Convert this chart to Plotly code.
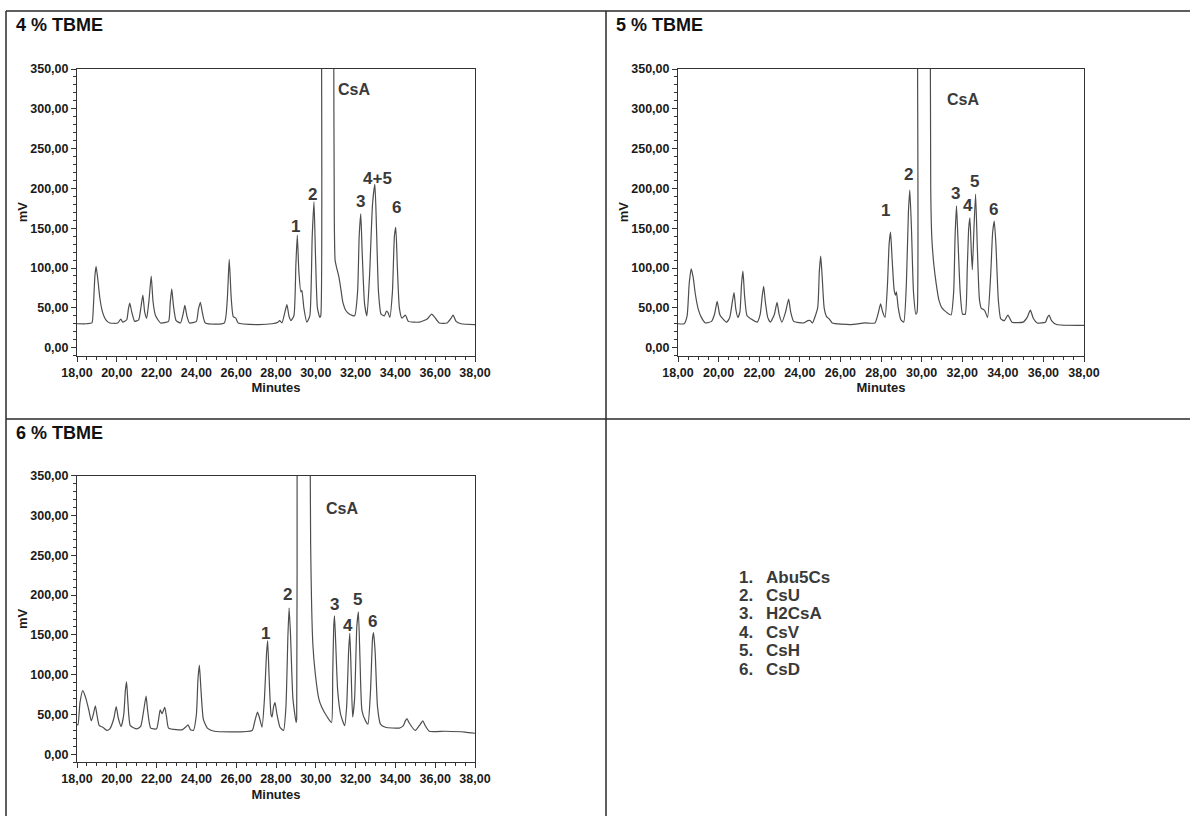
import plotly.graph_objects as go

W, H = 1190, 816
FONT = "Liberation Sans, Arial, sans-serif"

# ---------------- data ----------------
t_4 = [18.0, 18.5, 18.75, 18.82, 18.9, 18.96, 19.05, 19.15, 19.28, 19.45, 19.65, 20.05, 20.2, 20.3, 20.5,
       20.58, 20.65, 20.75, 20.9, 21.1, 21.22, 21.31, 21.4, 21.5, 21.62, 21.73, 21.82, 21.95, 22.2, 22.6,
       22.68, 22.76, 22.85, 22.98, 23.2, 23.33, 23.42, 23.52, 23.65, 24.0, 24.1, 24.2, 24.3, 24.45, 25.4,
       25.55, 25.65, 25.75, 25.85, 25.98, 26.1, 27.0, 27.8, 28.1, 28.18, 28.3, 28.45, 28.55, 28.65, 28.75,
       28.9, 29.0, 29.07, 29.15, 29.25, 29.3, 29.4, 29.55, 29.7, 29.82, 29.91, 29.98, 30.08, 30.2, 30.25,
       30.27, 30.6, 30.88, 30.9, 30.93, 30.97, 31.05, 31.15, 31.25, 31.35, 31.5, 31.7, 31.95, 32.1, 32.18,
       32.26, 32.33, 32.45, 32.57, 32.7, 32.85, 32.97, 33.05, 33.15, 33.28, 33.45, 33.55, 33.63, 33.72,
       33.85, 33.95, 34.02, 34.1, 34.2, 34.33, 34.5, 34.65, 35.2, 35.6, 35.82, 35.95, 36.2, 36.6, 36.8,
       36.9, 37.05, 37.3, 38.0]
mv_4 = [30, 30, 31, 50, 90, 102, 85, 62, 45, 35, 31, 31, 36, 32, 35,
        48, 56, 45, 33, 35, 52, 66, 45, 37, 60, 90, 58, 40, 31, 33,
        55, 74, 52, 34, 31, 42, 53, 40, 31, 33, 48, 57, 44, 31, 31,
        60, 111, 62, 39, 37, 31, 29, 30, 32, 34, 31, 45, 54, 40, 34,
        40, 105, 141, 95, 70, 72, 50, 32, 40, 140, 183, 120, 50, 38, 40,
        600, 3000, 600, 400, 160, 110, 100, 90, 75, 58, 47, 42, 40, 70, 140,
        168, 120, 55, 40, 90, 180, 205, 150, 70, 42, 40, 46, 44, 38,
        70, 140, 151, 100, 50, 37, 41, 33, 32, 36, 42, 39, 31, 31, 37,
        41, 33, 30, 29]

t_5 = [18.0, 18.3, 18.45, 18.55, 18.65, 18.75, 18.85, 19.0, 19.15, 19.35, 19.65, 19.8, 19.93, 20.05, 20.15,
       20.4, 20.55, 20.68, 20.76, 20.85, 20.95, 21.05, 21.13, 21.2, 21.28, 21.4, 21.6, 21.9, 22.05, 22.15,
       22.22, 22.3, 22.42, 22.55, 22.75, 22.88, 22.98, 23.12, 23.3, 23.45, 23.55, 23.7, 24.2, 24.4, 24.51,
       24.62, 24.88, 24.96, 25.03, 25.1, 25.2, 25.32, 25.45, 25.6, 26.5, 27.2, 27.7, 27.85, 27.98, 28.08,
       28.2, 28.32, 28.4, 28.47, 28.55, 28.65, 28.72, 28.76, 28.85, 28.98, 29.12, 29.25, 29.35, 29.42, 29.5,
       29.6, 29.72, 29.78, 29.8, 30.1, 30.42, 30.45, 30.5, 30.6, 30.72, 30.85, 31.0, 31.25, 31.45, 31.58,
       31.65, 31.72, 31.8, 31.9, 32.02, 32.15, 32.25, 32.32, 32.38, 32.45, 32.5, 32.58, 32.66, 32.74, 32.85,
       32.95, 33.05, 33.12, 33.25, 33.4, 33.5, 33.58, 33.66, 33.78, 33.9, 34.08, 34.25, 34.45, 35.0, 35.2,
       35.36, 35.5, 35.7, 36.1, 36.2, 36.28, 36.4, 36.65, 38.0]
mv_5 = [30, 30, 40, 80, 99, 88, 68, 48, 38, 31, 33, 42, 58, 42, 38,
        32, 38, 58, 69, 48, 38, 45, 80, 96, 65, 40, 36, 32, 42, 65,
        77, 58, 38, 32, 42, 57, 42, 32, 45, 61, 45, 33, 31, 34, 34,
        31, 50, 95, 115, 90, 50, 39, 36, 31, 29, 31, 31, 42, 55, 45,
        38, 80, 130, 145, 110, 72, 66, 70, 50, 35, 32, 80, 170, 198, 150,
        70, 42, 45, 400, 3000, 500, 200, 140, 105, 80, 60, 50, 44, 41, 70,
        140, 178, 130, 70, 42, 42, 100, 150, 163, 120, 98, 150, 193, 130, 60,
        49, 48, 46, 38, 90, 145, 159, 130, 60, 36, 34, 41, 32, 32, 38,
        47, 37, 31, 32, 38, 41, 34, 29, 28]

t_6 = [18.0, 18.05, 18.15, 18.29, 18.45, 18.6, 18.72, 18.82, 18.92, 19.0, 19.12, 19.3, 19.5, 19.65, 19.85,
       19.97, 20.08, 20.22, 20.35, 20.43, 20.49, 20.56, 20.68, 21.0, 21.2, 21.35, 21.47, 21.55, 21.7, 22.0,
       22.1, 22.18, 22.27, 22.41, 22.5, 22.6, 23.0, 23.3, 23.45, 23.58, 23.7, 23.85, 24.0, 24.08, 24.15,
       24.22, 24.35, 24.55, 24.9, 26.8, 26.92, 27.07, 27.18, 27.3, 27.42, 27.52, 27.58, 27.65, 27.75, 27.8,
       27.88, 27.95, 28.05, 28.2, 28.38, 28.5, 28.6, 28.66, 28.73, 28.85, 29.01, 29.04, 29.06, 29.4, 29.7,
       29.74, 29.85, 29.98, 30.15, 30.3, 30.6, 30.79, 30.85, 30.9, 30.94, 31.0, 31.1, 31.25, 31.45, 31.55,
       31.65, 31.71, 31.78, 31.85, 31.95, 32.06, 32.14, 32.22, 32.32, 32.5, 32.62, 32.75, 32.85, 32.9, 32.98,
       33.1, 33.25, 33.5, 34.2, 34.4, 34.5, 34.58, 34.68, 35.0, 35.2, 35.38, 35.5, 35.7, 36.5, 37.5, 38.0]
mv_6 = [38, 37, 65, 80, 70, 55, 42, 50, 61, 50, 36, 34, 30, 32, 45,
        60, 45, 35, 50, 80, 91, 65, 36, 32, 35, 55, 73, 55, 33, 32,
        44, 56, 51, 59, 47, 33, 31, 31, 34, 37, 31, 30, 50, 95, 112,
        85, 44, 33, 29, 30, 40, 53, 45, 34, 70, 125, 143, 100, 50, 47,
        60, 65, 50, 34, 30, 60, 150, 184, 150, 70, 40, 45, 400, 3000, 500,
        265, 139, 100, 70, 59, 46, 40, 100, 160, 174, 140, 80, 50, 36, 60,
        130, 152, 100, 47, 70, 160, 179, 120, 55, 42, 38, 80, 145, 153, 130,
        60, 38, 34, 33, 36, 42, 45, 40, 30, 36, 42, 36, 29, 29, 28, 26.5]

# peak labels: (text, minutes, mV)
labels_4 = [("CsA", 31.9, 324), ("1", 28.97, 152), ("2", 29.83, 192), ("3", 32.27, 183),
            ("4+5", 33.1, 213), ("6", 34.06, 176)]
labels_5 = [("CsA", 32.02, 312), ("1", 28.22, 172), ("2", 29.36, 218), ("3", 31.69, 194),
            ("4", 32.28, 178), ("5", 32.63, 209), ("6", 33.53, 173)]
labels_6 = [("CsA", 31.3, 309), ("1", 27.48, 152), ("2", 28.57, 201), ("3", 30.93, 188),
            ("4", 31.63, 162), ("5", 32.09, 194), ("6", 32.84, 167)]

panel_titles = ["4 % TBME", "5 % TBME", "6 % TBME"]
legend_items = ["1.", "2.", "3.", "4.", "5.", "6."]
legend_names = ["Abu5Cs", "CsU", "H2CsA", "CsV", "CsH", "CsD"]

x_tickvals = [18, 20, 22, 24, 26, 28, 30, 32, 34, 36, 38]
x_ticktext = ["18,00", "20,00", "22,00", "24,00", "26,00", "28,00", "30,00", "32,00", "34,00", "36,00", "38,00"]
y_tickvals = [0, 50, 100, 150, 200, 250, 300, 350]
y_ticktext = ["0,00", "50,00", "100,00", "150,00", "200,00", "250,00", "300,00", "350,00"]

# ---------------- layout helpers ----------------
def px_x(p):
    return p / W

def px_y(p):
    return 1 - p / H

# plot areas in pixels: (left, right, top, bottom)
boxes = [(77, 475, 69, 355.6), (678, 1084, 69, 355.6), (77, 475, 475.7, 762.3)]
series = [(t_4, mv_4, labels_4), (t_5, mv_5, labels_5), (t_6, mv_6, labels_6)]
title_pos = [(14, 25), (614, 25), (14, 433)]

TICKFONT = dict(size=12.5, weight="bold", family=FONT, color="#1a1a1a")

fig = go.Figure()
annotations = []
layout = dict(
    width=W, height=H, margin=dict(l=0, r=0, t=0, b=0, pad=0, autoexpand=False), autosize=False,
    paper_bgcolor="white", plot_bgcolor="white", showlegend=False,
    font=dict(family=FONT, color="#1a1a1a"),
)

for i, ((t, v, labs), (l, r, tp, bt)) in enumerate(zip(series, boxes)):
    n = "" if i == 0 else str(i + 1)
    fig.add_trace(go.Scatter(x=t, y=v, mode="lines", xaxis="x" + n, yaxis="y" + n,
                             line=dict(color="#4d4d4d", width=1.2, shape="spline", smoothing=0.5),
                             hoverinfo="skip"))
    layout["xaxis" + n] = dict(
        domain=[px_x(l), px_x(r)], anchor="y" + n, range=[18, 38], automargin=False,
        tickmode="array", tickvals=x_tickvals, ticktext=x_ticktext,
        ticks="outside", ticklen=5, tickcolor="#333", tickwidth=1,
        minor=dict(dtick=0.5, ticks="outside", ticklen=3, tickcolor="#333"),
        showline=True, linecolor="#333", linewidth=1, mirror=True,
        showgrid=False, zeroline=False, tickfont=TICKFONT,
        title=dict(text="Minutes", font=dict(size=13, weight="bold", family=FONT, color="#1a1a1a"),
                   standoff=4),
    )
    layout["yaxis" + n] = dict(
        domain=[px_y(bt), px_y(tp)], anchor="x" + n, range=[-10, 350], automargin=False,
        tickmode="array", tickvals=y_tickvals, ticktext=y_ticktext,
        ticks="outside", ticklen=5, tickcolor="#333", tickwidth=1,
        minor=dict(dtick=10, ticks="outside", ticklen=3, tickcolor="#333"),
        showline=True, linecolor="#333", linewidth=1, mirror=True,
        showgrid=False, zeroline=False, tickfont=TICKFONT,
    )
    annotations.append(dict(text="mV", xref="paper", yref="paper", x=px_x(l - 55),
                            y=px_y((tp + bt) / 2), textangle=-90, showarrow=False,
                            font=dict(size=13, weight="bold", family=FONT, color="#1a1a1a"),
                            xanchor="center", yanchor="middle"))
    tx, ty = title_pos[i]
    annotations.append(dict(text=panel_titles[i], xref="paper", yref="paper", x=px_x(tx), y=px_y(ty),
                            showarrow=False, xanchor="left", yanchor="middle",
                            font=dict(size=18, weight="bold", family=FONT, color="#111")))
    for txt, lx, ly in labs:
        annotations.append(dict(text=txt, xref="x" + n, yref="y" + n, x=lx, y=ly, showarrow=False,
                                xanchor="center", yanchor="middle",
                                font=dict(size=17 if txt != "CsA" else 16, weight="bold",
                                          family=FONT, color="#3a3a3a")))

for k, (num, name) in enumerate(zip(legend_items, legend_names)):
    yy = 577 + k * 18.4
    annotations.append(dict(text=num, xref="paper", yref="paper", x=px_x(737), y=px_y(yy),
                            showarrow=False, xanchor="left", yanchor="middle",
                            font=dict(size=17, weight="bold", family=FONT, color="#3a3a3a")))
    annotations.append(dict(text=name, xref="paper", yref="paper", x=px_x(764), y=px_y(yy),
                            showarrow=False, xanchor="left", yanchor="middle",
                            font=dict(size=17, weight="bold", family=FONT, color="#3a3a3a")))

line_style = dict(color="#2a2a2a", width=1.5)
shapes = [
    dict(type="line", xref="paper", yref="paper", x0=px_x(6), x1=1, y0=px_y(11), y1=px_y(11), line=line_style),
    dict(type="line", xref="paper", yref="paper", x0=px_x(6), x1=px_x(6), y0=px_y(11), y1=0, line=line_style),
    dict(type="line", xref="paper", yref="paper", x0=px_x(606), x1=px_x(606), y0=px_y(11), y1=0, line=line_style),
    dict(type="line", xref="paper", yref="paper", x0=px_x(6), x1=1, y0=px_y(419), y1=px_y(419), line=line_style),
]

layout["annotations"] = annotations
layout["shapes"] = shapes
fig.update_layout(**layout)
fig.write_html("out.html",
               post_script="document.body.style.margin='0';document.body.style.padding='0';"
                           "document.documentElement.style.overflow='hidden';")
